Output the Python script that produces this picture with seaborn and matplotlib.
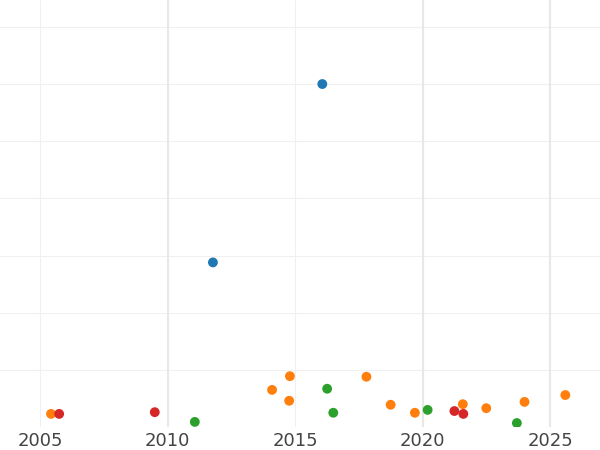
import matplotlib
matplotlib.use("Agg")
import matplotlib.pyplot as plt
import seaborn as sns
import pandas as pd

blue_x = [2016.07, 2011.78]
blue_y = [6.0, 2.88]
orange_x = [2005.43, 2014.1, 2014.8, 2014.77, 2017.8, 2018.75, 2019.7, 2021.58, 2022.5, 2024.0, 2025.6]
orange_y = [0.23, 0.65, 0.89, 0.46, 0.88, 0.39, 0.25, 0.40, 0.33, 0.44, 0.56]
red_x = [2005.75, 2009.5, 2021.25, 2021.6]
red_y = [0.23, 0.26, 0.28, 0.23]
green_x = [2011.07, 2016.26, 2016.5, 2020.2, 2023.7]
green_y = [0.09, 0.67, 0.25, 0.30, 0.07]

rows = []
for name, xs, ys in [("a", blue_x, blue_y), ("b", orange_x, orange_y),
                     ("c", red_x, red_y), ("d", green_x, green_y)]:
    rows += [{"x": x, "y": y, "s": name} for x, y in zip(xs, ys)]
df = pd.DataFrame(rows)

sns.set_style("white")
fig = plt.figure(figsize=(6, 4.5), dpi=100)
ax = fig.add_axes([0, 0.051, 1, 0.949])
sns.scatterplot(data=df, x="x", y="y", hue="s",
                palette=["#1f77b4", "#ff7f0e", "#d62728", "#2ca02c"],
                s=50, edgecolor="none", legend=False, ax=ax, zorder=3)
ax.set_xlim(2003.43, 2026.96)
ax.set_ylim(0, 7.47)
ax.set_xticks([2005, 2010, 2015, 2020, 2025])
ax.set_yticks(range(1, 8))
ax.set_yticklabels([])
ax.grid(True, color="#f0f0f0", linewidth=0.8)
for v in [2010, 2020, 2025]:
    ax.axvline(v, color="#e8e8e8", linewidth=1.5, zorder=1)
ax.tick_params(axis="both", length=0, labelsize=13, labelcolor="#444444")
ax.set_xlabel("")
ax.set_ylabel("")
for s in ax.spines.values():
    s.set_visible(False)
fig.savefig("out.png", dpi=100)
